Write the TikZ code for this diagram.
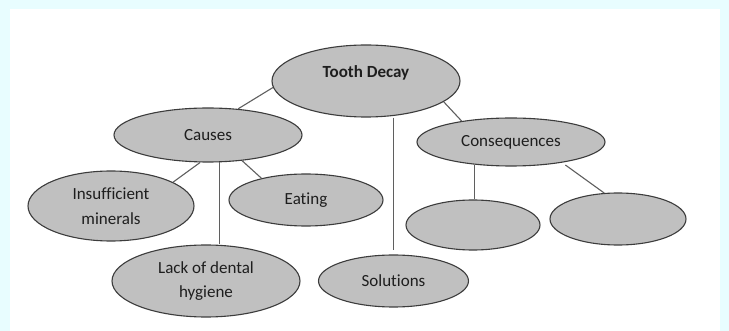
\documentclass[tikz,border=0pt]{standalone}
\usepackage{fontspec}
\setmainfont{Carlito}[Ligatures={NoCommon}]
\usepackage{tikz}
\usetikzlibrary{
    positioning,
    calc,
    shapes.geometric
}
\definecolor{frameC}{RGB}{232,253,255}
\definecolor{fillC} {RGB}{192,192,192}
\definecolor{edgeC} {RGB}{ 60, 60, 60}
\definecolor{lineC} {RGB}{ 95, 95, 95}
\definecolor{textC} {RGB}{ 30, 30, 30}
\tikzset{
  bubble/.style = {ellipse, draw=edgeC, fill=fillC, line width=1.1pt,
                   inner sep=0pt, align=center, text=textC,
                   font=\fontsize{17}{23.5}\selectfont},
  link/.style   = {draw=lineC, line width=1.1pt}
}

\begin{document}
\begin{tikzpicture}[x=1pt, y=-1pt]

  %% ── Page ──────────────────────────────────────────────────────
  \useasboundingbox (0,0) rectangle (729,331);
  \fill[frameC] (0,0) rectangle (729,331);
  \fill[white]  (10,9) rectangle (720,331);

  %% ── Bubbles ───────────────────────────────────────────────────
  \node[bubble, minimum width=188pt, minimum height=72pt,
        text height=12pt, text depth=19pt, font=\fontsize{17}{23.5}\selectfont\bfseries]
        (td)     at (366, 81) {Tooth Decay};
  \node[bubble, minimum width=188pt, minimum height=54pt] (causes) at (208,135) {Causes};
  \node[bubble, minimum width=188pt, minimum height=48pt] (cons)   at (511,142) {Consequences};
  \node[bubble, minimum width=166pt, minimum height=70pt] (ins)    at (111,206) {Insufficient\\[1pt]minerals};
  \node[bubble, minimum width=154pt, minimum height=52pt] (eat)    at (306,200) {Eating};
  \node[bubble, minimum width=188pt, minimum height=72pt] (lack)   at (206,281) {Lack of dental\\hygiene};
  \node[bubble, minimum width=150pt, minimum height=52pt] (sol)    at (393.5,281) {Solutions};
  \node[bubble, minimum width=134pt, minimum height=50pt] (csq1)   at (473,225) {};
  \node[bubble, minimum width=136pt, minimum height=52pt] (csq2)   at (618,219) {};

  %% ── Links from the top ────────────────────────────────────────
  \draw[link] (td.184) -- (causes.41);
  \draw[link] (td.345) -- (cons.157);
  \draw[link, shorten >=4pt] (sol.north |- td.south) -- (sol.north);

  %% ── Links under Causes ────────────────────────────────────────
  \draw[link] (causes.254) -- (ins.21);
  \draw[link] (causes.292) -- (causes.292 |- lack.north);
  \draw[link] (causes.323) -- (eat.154);

  %% ── Links under Consequences ──────────────────────────────────
  \draw[link] (cons.212) -- (cons.212 |- csq1.north);
  \draw[link, shorten <=4pt] (cons.338) -- (csq2.118);

\end{tikzpicture}
\end{document}
